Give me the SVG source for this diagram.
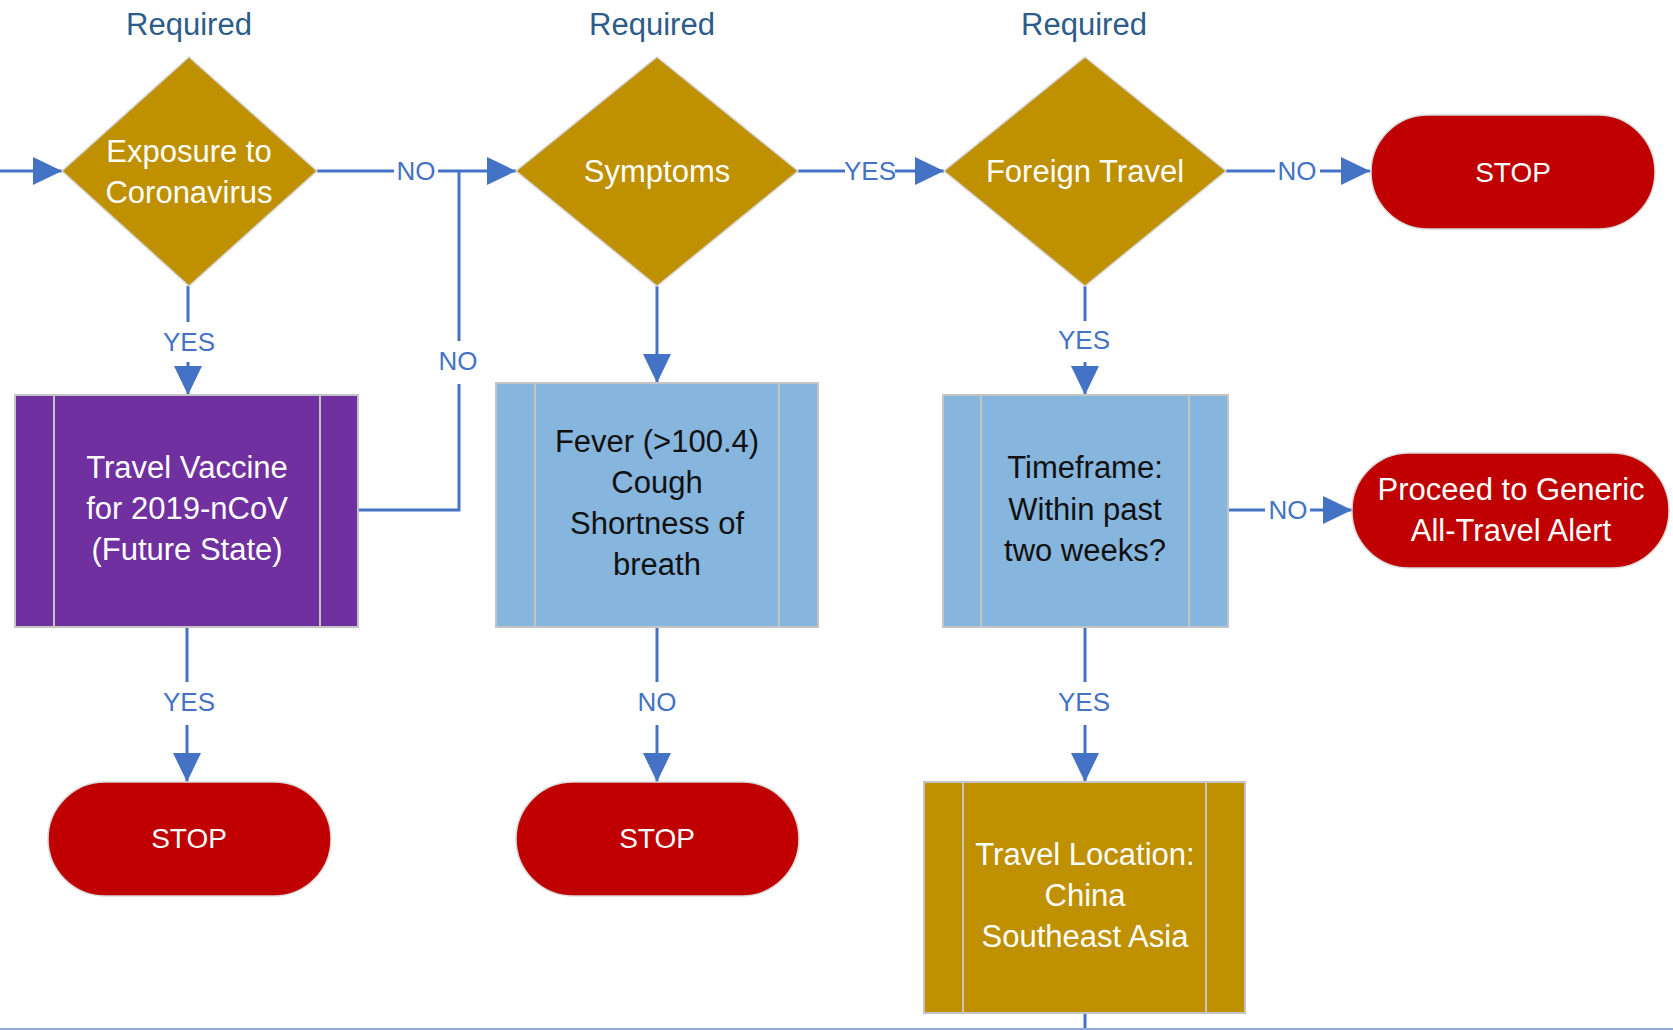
<svg xmlns="http://www.w3.org/2000/svg" width="1673" height="1030" viewBox="0 0 1673 1030">
<defs>
<marker id="arr" markerUnits="userSpaceOnUse" markerWidth="30" markerHeight="28" refX="29" refY="14" orient="auto">
<path d="M0,0 L29,14 L0,28 z" fill="#4472C4"/>
</marker>
<style>
.t{font-family:"Liberation Sans",Arial,sans-serif;font-size:31px;text-anchor:middle}
.w{fill:#FFFFFF}
.k{fill:#111111}
.req{font-family:"Liberation Sans",Arial,sans-serif;font-size:31px;text-anchor:middle;fill:#2B5C8A}
.stop{font-family:"Liberation Sans",Arial,sans-serif;font-size:28px;text-anchor:middle;fill:#FFFFFF}
.lbl{font-family:"Liberation Sans",Arial,sans-serif;font-size:26px;text-anchor:middle;fill:#4472C4}
.dia{fill:#BF9000;stroke:#D4D4D4;stroke-width:1.5}
.term{fill:#C00000;stroke:#D9D9D9;stroke-width:1.5}
.proc{stroke:#C4C4C4;stroke-width:2}
.c{fill:none;stroke:#4472C4;stroke-width:3}
</style>
</defs>
<rect width="1673" height="1030" fill="#FFFFFF"/>

<g id="required-labels">
<text class="req" x="189" y="35">Required</text>
<text class="req" x="652" y="35">Required</text>
<text class="req" x="1084" y="35">Required</text>
</g>

<g id="connectors">
<path class="c" d="M0,171 H62" marker-end="url(#arr)"/>
<path class="c" d="M317,171 H394"/>
<path class="c" d="M438,171 H516" marker-end="url(#arr)"/>
<path class="c" d="M459,171 V341"/>
<path class="c" d="M459,384 V510 H358"/>
<path class="c" d="M798,171 H845"/>
<path class="c" d="M895,171 H944" marker-end="url(#arr)"/>
<path class="c" d="M1226,171 H1275"/>
<path class="c" d="M1320,171 H1370" marker-end="url(#arr)"/>
<path class="c" d="M188,286 V322"/>
<path class="c" d="M188,362 V395" marker-end="url(#arr)"/>
<path class="c" d="M657,286 V383" marker-end="url(#arr)"/>
<path class="c" d="M1085,286 V321"/>
<path class="c" d="M1085,362 V395" marker-end="url(#arr)"/>
<path class="c" d="M1228,510 H1265"/>
<path class="c" d="M1310,510 H1352" marker-end="url(#arr)"/>
<path class="c" d="M187,627 V682"/>
<path class="c" d="M187,725 V782" marker-end="url(#arr)"/>
<path class="c" d="M657,627 V682"/>
<path class="c" d="M657,725 V782" marker-end="url(#arr)"/>
<path class="c" d="M1085,627 V682"/>
<path class="c" d="M1085,725 V782" marker-end="url(#arr)"/>
<path class="c" d="M1085,1013 V1030"/>
<path d="M0,1029 H1673" stroke="#8EA9DB" stroke-width="2" fill="none"/>
<text class="lbl" x="416" y="180">NO</text>
<text class="lbl" x="458" y="370">NO</text>
<text class="lbl" x="870" y="180">YES</text>
<text class="lbl" x="1297" y="180">NO</text>
<text class="lbl" x="189" y="351">YES</text>
<text class="lbl" x="1084" y="349">YES</text>
<text class="lbl" x="1288" y="519">NO</text>
<text class="lbl" x="189" y="711">YES</text>
<text class="lbl" x="657" y="711">NO</text>
<text class="lbl" x="1084" y="711">YES</text>
</g>

<g id="exposure">
<polygon class="dia" points="189,57 317,171 189,286 62,171"/>
<text class="t w" x="189" y="162">Exposure to</text>
<text class="t w" x="189" y="203">Coronavirus</text>
</g>

<g id="symptoms">
<polygon class="dia" points="657,57 798,171 657,286 516,171"/>
<text class="t w" x="657" y="182">Symptoms</text>
</g>

<g id="foreign-travel">
<polygon class="dia" points="1085,57 1226,171 1085,286 944,171"/>
<text class="t w" x="1085" y="182">Foreign Travel</text>
</g>

<g id="stop-top">
<rect class="term" x="1371" y="115" width="284" height="114" rx="57" ry="57"/>
<text class="stop" x="1513" y="182">STOP</text>
</g>

<g id="vaccine">
<rect class="proc" x="15" y="395" width="343" height="232" fill="#7030A0"/>
<line class="proc" x1="54" y1="395" x2="54" y2="627"/>
<line class="proc" x1="320" y1="395" x2="320" y2="627"/>
<text class="t w" x="187" y="478">Travel Vaccine</text>
<text class="t w" x="187" y="519">for 2019-nCoV</text>
<text class="t w" x="187" y="560">(Future State)</text>
</g>

<g id="fever">
<rect class="proc" x="496" y="383" width="322" height="244" fill="#86B5DD"/>
<line class="proc" x1="535" y1="383" x2="535" y2="627"/>
<line class="proc" x1="779" y1="383" x2="779" y2="627"/>
<text class="t k" x="657" y="452">Fever (&gt;100.4)</text>
<text class="t k" x="657" y="493">Cough</text>
<text class="t k" x="657" y="534">Shortness of</text>
<text class="t k" x="657" y="575">breath</text>
</g>

<g id="timeframe">
<rect class="proc" x="943" y="395" width="285" height="232" fill="#86B5DD"/>
<line class="proc" x1="981" y1="395" x2="981" y2="627"/>
<line class="proc" x1="1189" y1="395" x2="1189" y2="627"/>
<text class="t k" x="1085" y="478">Timeframe:</text>
<text class="t k" x="1085" y="520">Within past</text>
<text class="t k" x="1085" y="561">two weeks?</text>
</g>

<g id="proceed-generic">
<rect class="term" x="1352" y="453" width="317" height="115" rx="57" ry="57"/>
<text class="t w" x="1511" y="500">Proceed to Generic</text>
<text class="t w" x="1511" y="541">All-Travel Alert</text>
</g>

<g id="stop-left">
<rect class="term" x="48" y="782" width="283" height="114" rx="57" ry="57"/>
<text class="stop" x="189" y="848">STOP</text>
</g>

<g id="stop-mid">
<rect class="term" x="516" y="782" width="283" height="114" rx="57" ry="57"/>
<text class="stop" x="657" y="848">STOP</text>
</g>

<g id="travel-location">
<rect class="proc" x="924" y="782" width="321" height="231" fill="#BF9000"/>
<line class="proc" x1="963" y1="782" x2="963" y2="1013"/>
<line class="proc" x1="1206" y1="782" x2="1206" y2="1013"/>
<text class="t w" x="1085" y="865">Travel Location:</text>
<text class="t w" x="1085" y="906">China</text>
<text class="t w" x="1085" y="947">Southeast Asia</text>
</g>
</svg>
